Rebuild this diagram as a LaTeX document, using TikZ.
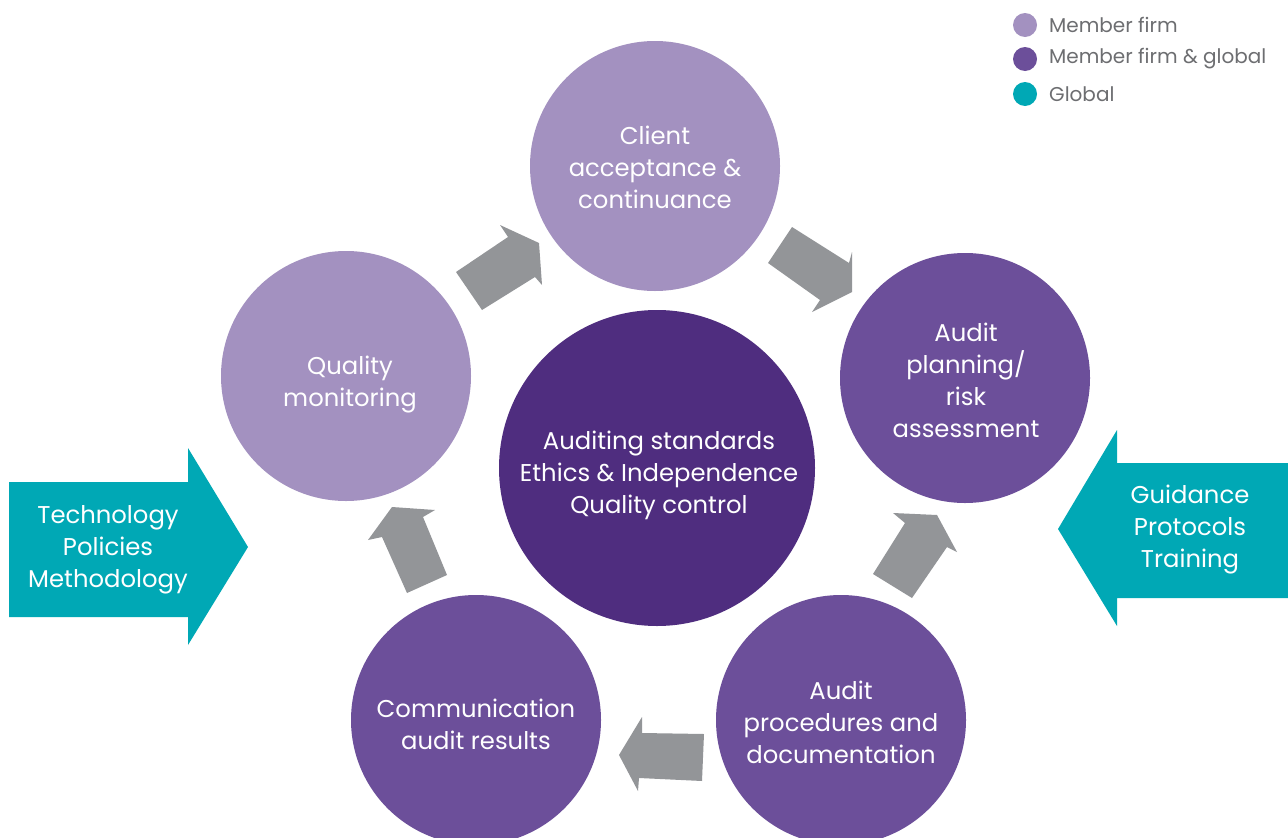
\documentclass[tikz,border=0pt]{standalone}
\usepackage{fontspec}
\setmainfont{Poppins}
\definecolor{lightpurple}{HTML}{A391C0}
\definecolor{midpurple}{HTML}{6C4F9A}
\definecolor{darkpurple}{HTML}{4F2D7F}
\definecolor{tealc}{HTML}{00A8B5}
\definecolor{grayarrow}{HTML}{939598}
\definecolor{legendtext}{HTML}{6D6E71}
\begin{document}
\begin{tikzpicture}[x=1pt,y=-1pt,
  stage/.style={circle,minimum size=250pt,inner sep=0pt},
  core/.style={circle,minimum size=316pt,inner sep=0pt,fill=darkpurple},
  label text/.style={text=white,align=center,inner sep=0pt,font=\fontsize{24.3}{32}\selectfont},
  legdot/.style={circle,minimum size=24pt,inner sep=0pt},
  legtext/.style={anchor=west,inner sep=0pt,text=legendtext,font=\fontsize{20}{22}\selectfont},
  flow/.style={fill=grayarrow}]
\useasboundingbox (0,0) rectangle (1288,838);
\fill[white] (0,0) rectangle (1288,838);

% stages
\node[stage,fill=lightpurple] (client) at (655,166) {};
\node[label text] (clientT) at (655,167) {Client\\acceptance \&\\continuance};
\node[stage,fill=midpurple] (plan) at (965,378) {};
\node[label text] (planT) at (966,380) {Audit\\planning/\\risk\\assessment};
\node[stage,fill=midpurple] (proc) at (841,720) {};
\node[label text] (procT) at (841,722) {Audit\\procedures and\\documentation};
\node[stage,fill=midpurple] (comm) at (476,720) {};
\node[label text] (commT) at (476,724) {Communication\\audit results};
\node[stage,fill=lightpurple] (qual) at (346,376) {};
\node[label text] (qualT) at (350,385) {Quality\\monitoring};
\node[core] (center) at (657,468) {};
\node[label text] (centerT) at (659,475) {Auditing standards\\Ethics \& Independence\\Quality control};

% gray flow arrows
\fill[flow] (456,272) -- (508,237) -- (500,225) -- (539,243) -- (542,285) -- (535,277) -- (482,310) -- cycle;
\fill[flow] (792,227) -- (849,263) -- (852,252) -- (852,292) -- (812,312) -- (820,300) -- (768,263) -- cycle;
\fill[flow] (893,513) -- (937,515) -- (957,552) -- (947,547) -- (912,598) -- (873,574) -- (905,523) -- cycle;
\fill[flow] (392,507) -- (435,510) -- (423,517) -- (447,575) -- (407,593) -- (382,537) -- (368,540) -- cycle;
\fill[flow] (619,755) -- (642,717) -- (642,733) -- (704,734) -- (702,781) -- (639,778) -- (638,791) -- cycle;

% teal input arrows
\fill[tealc] (9,482) -- (188,482) -- (188,448) -- (248,547) -- (188,645) -- (188,617) -- (9,617) -- cycle;
\node[label text] (left) at (108,550) {Technology\\Policies\\Methodology};
\fill[tealc] (1288,463) -- (1117,463) -- (1117,430) -- (1058,529) -- (1117,626) -- (1117,598) -- (1288,598) -- cycle;
\node[label text] (right) at (1190,530) {Guidance\\Protocols\\Training};

% legend
\node[legdot,fill=lightpurple] (l1) at (1025,25) {};
\node[legtext] (t1) at (1049,25) {Member firm};
\node[legdot,fill=midpurple] (l2) at (1025,59) {};
\node[legtext] (t2) at (1049,59) {Member firm \& global};
\node[legdot,fill=tealc] (l3) at (1025,94) {};
\node[legtext] (t3) at (1049,94) {Global};
\end{tikzpicture}
\end{document}
